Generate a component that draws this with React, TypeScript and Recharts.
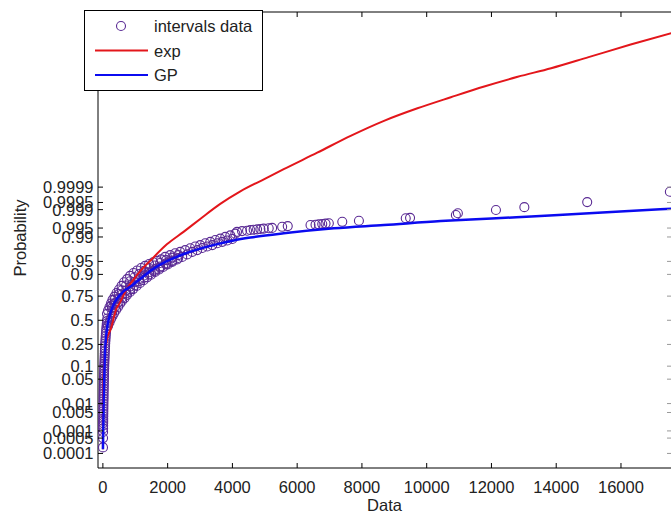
import React from 'react';
import { ComposedChart, Scatter, Line, XAxis, YAxis, Legend } from 'recharts';

// [data value, standard normal score] pairs
const intervalsLow: number[][] = [
  [3, -3.55], [5, -3.29], [6, -3.12], [7, -3.02], [8, -2.94], [9, -2.87], [10, -2.81], [11, -2.75],
  [12, -2.68], [13, -2.61], [14, -2.54], [15, -2.47], [16, -2.4], [17, -2.33], [18, -2.26], [20, -2.19],
  [21, -2.12], [22, -2.05], [24, -1.98], [25, -1.91], [27, -1.84], [28, -1.77], [30, -1.7], [32, -1.63],
  [34, -1.56], [36, -1.49], [38, -1.42], [40, -1.35], [42, -1.28], [45, -1.21], [48, -1.14], [51, -1.07],
  [54, -1.0], [57, -0.93], [60, -0.86], [64, -0.79], [68, -0.72], [72, -0.65], [77, -0.58], [82, -0.51],
  [87, -0.44], [93, -0.37], [99, -0.3], [106, -0.23], [113, -0.16], [120, -0.09], [128, -0.02], [136, 0.05],
];

const intervalsUpper: number[][] = [
  [127, 0.18], [158, 0.27], [204, 0.37], [251, 0.47], [297, 0.57], [359, 0.66], [421, 0.76], [498, 0.86],
  [576, 0.96], [653, 1.06], [746, 1.15], [839, 1.24], [947, 1.32], [1056, 1.39], [1180, 1.46], [1303, 1.52],
  [1427, 1.57], [1551, 1.62], [1675, 1.66], [1799, 1.7], [1923, 1.77], [2077, 1.82], [2232, 1.87], [2387, 1.91],
  [2542, 1.96], [2697, 2.01], [2851, 2.06], [3006, 2.1], [3161, 2.15], [3316, 2.19], [3471, 2.24], [3625, 2.28],
  [3780, 2.33], [3935, 2.37], [4090, 2.42],
];

const intervalsUpperMid: number[][] = [
  [266, 0.41], [368, 0.58], [489, 0.73], [585, 0.84], [715, 0.97], [839, 1.09], [978, 1.2], [1118, 1.29],
  [1272, 1.38], [1427, 1.46], [1598, 1.53], [1768, 1.6], [1954, 1.68], [2139, 1.75], [2325, 1.82],
];

const intervalsMid: number[][] = [
  [282, 0.34], [375, 0.48], [483, 0.61], [591, 0.72], [715, 0.83], [839, 0.94], [978, 1.06], [1118, 1.15],
  [1272, 1.25], [1427, 1.34], [1598, 1.42], [1768, 1.5], [1954, 1.59], [2139, 1.67], [2325, 1.74],
];

const intervalsLowerMid: number[][] = [
  [288, 0.23], [375, 0.37], [483, 0.5], [591, 0.63], [715, 0.75], [839, 0.87], [978, 0.98], [1118, 1.09],
  [1272, 1.19], [1427, 1.28], [1598, 1.38], [1768, 1.47], [1954, 1.56], [2139, 1.65],
];

const intervalsLower: number[][] = [
  [158, -0.16], [204, -0.06], [251, 0.04], [297, 0.12], [344, 0.2], [406, 0.29], [467, 0.37], [529, 0.46],
  [591, 0.54], [669, 0.62], [746, 0.71], [839, 0.79], [932, 0.87], [1040, 0.96], [1149, 1.04], [1257, 1.12],
  [1365, 1.2], [1489, 1.27], [1613, 1.35], [1737, 1.42], [1861, 1.49], [2000, 1.56], [2139, 1.63], [2294, 1.7],
  [2449, 1.77], [2604, 1.84], [2759, 1.91], [2913, 1.96], [3068, 2.02], [3223, 2.06], [3378, 2.1], [3533, 2.15],
  [3687, 2.19], [3842, 2.23], [3997, 2.27],
];

const intervalsTail: number[][] = [
  [4142, 2.47], [4297, 2.49], [4452, 2.5], [4554, 2.52], [4656, 2.53], [4762, 2.54], [4864, 2.55], [4966, 2.56],
  [5121, 2.57], [5226, 2.58], [5536, 2.61], [5709, 2.63], [6412, 2.66], [6567, 2.67], [6669, 2.68], [6774, 2.69],
  [6876, 2.7], [6978, 2.71], [7393, 2.75], [7907, 2.78], [9353, 2.85], [9486, 2.86], [10901, 2.94], [10963, 2.99],
  [12139, 3.08], [13016, 3.16], [14957, 3.3], [17510, 3.59],
];

const expCurve: number[][] = [
  [0.2, -3.6], [2, -2.7], [8, -2.1], [25, -1.5], [60, -1.0], [120, -0.55], [240, -0.25], [420, 0.33],
  [530, 0.5], [700, 0.82], [940, 1.13], [1200, 1.42], [1460, 1.66], [1975, 2.12], [2490, 2.47], [3006, 2.83],
  [3625, 3.25], [4245, 3.6], [5000, 3.95], [5585, 4.22], [6619, 4.68], [7650, 5.15], [8681, 5.57], [9715, 5.92],
  [10746, 6.23], [11777, 6.53], [12811, 6.8], [13843, 7.04], [15000, 7.35], [16300, 7.7], [17600, 8.03],
];

const gpCurve: number[][] = [
  [2, -3.6], [15, -2.8], [25, -2.2], [38, -1.7], [55, -1.15], [75, -0.75], [100, -0.45], [140, -0.15],
  [200, 0.1], [300, 0.38], [450, 0.62], [632, 0.8], [941, 1.0], [1149, 1.15], [1500, 1.4], [1975, 1.65],
  [2500, 1.85], [3006, 2.0], [3500, 2.12], [4037, 2.23], [4554, 2.31], [5585, 2.43], [7133, 2.57], [8681, 2.66],
  [10437, 2.77], [12000, 2.84], [13224, 2.9], [15288, 3.0], [17600, 3.12],
];

const xTicks = [0, 2000, 4000, 6000, 8000, 10000, 12000, 14000, 16000];
const probLabels = [
  '0.0001', '0.0005', '0.001', '0.005', '0.01', '0.05', '0.1', '0.25', '0.5',
  '0.75', '0.9', '0.95', '0.99', '0.995', '0.999', '0.9995', '0.9999',
];
const legendOrder = ['intervals data', 'exp', 'GP'];

const FONT = '"Liberation Sans", Arial, Helvetica, sans-serif';
const PURPLE = '#5a2a94';
const RED = '#e3161b';
const BLUE = '#0b0bf0';
const TICK_LEN = 5;
const X_DOMAIN = [-151, 17545];
const Y_DOMAIN = [-4.126, 8.61];

// inverse standard normal cdf (Acklam), used to place the probability ticks
function normInv(p: number): number {
  const a = [-39.69683028665376, 220.9460984245205, -275.9285104469687, 138.357751867269, -30.66479806614716, 2.506628277459239];
  const b = [-54.47609879822406, 161.5858368580409, -155.6989798598866, 66.80131188771972, -13.28068155288572];
  const c = [-0.007784894002430293, -0.3223964580411365, -2.400758277161838, -2.549732539343734, 4.374664141464968, 2.938163982698783];
  const d = [0.007784695709041462, 0.3224671290700398, 2.445134137142996, 3.754408661907416];
  const tail = (q: number) =>
    (((((c[0] * q + c[1]) * q + c[2]) * q + c[3]) * q + c[4]) * q + c[5]) /
    ((((d[0] * q + d[1]) * q + d[2]) * q + d[3]) * q + 1);
  if (p < 0.02425) return tail(Math.sqrt(-2 * Math.log(p)));
  if (p > 1 - 0.02425) return -tail(Math.sqrt(-2 * Math.log(1 - p)));
  const q = p - 0.5;
  const r = q * q;
  return (
    ((((((a[0] * r + a[1]) * r + a[2]) * r + a[3]) * r + a[4]) * r + a[5]) * q) /
    (((((b[0] * r + b[1]) * r + b[2]) * r + b[3]) * r + b[4]) * r + 1)
  );
}

const yTicks = probLabels.map((l) => normInv(parseFloat(l)));

const toPoints = (rows: number[][]) => rows.map(([x, z]) => ({ x, z }));
const intervalsData = toPoints([
  ...intervalsLow, ...intervalsLower, ...intervalsLowerMid, ...intervalsMid,
  ...intervalsUpperMid, ...intervalsUpper, ...intervalsTail,
]);
const expData = toPoints(expCurve);
const gpData = toPoints(gpCurve);

function probLabel(v: number) {
  let best = 0;
  yTicks.forEach((t, i) => {
    if (Math.abs(t - v) < Math.abs(yTicks[best] - v)) best = i;
  });
  return probLabels[best];
}

const LeftTick = (props: any) => {
  const { x, y, payload } = props;
  return (
    <g>
      <line x1={x} x2={x + TICK_LEN} y1={y} y2={y} stroke="#000" />
      <text x={x - 4.5} y={y} textAnchor="end" dominantBaseline="central" fontSize={16.5} fill="#222" fontFamily={FONT}>
        {probLabel(payload.value)}
      </text>
    </g>
  );
};

const RightTick = (props: any) => {
  const { x, y } = props;
  return <line x1={x - 4} x2={x} y1={y} y2={y} stroke="#999" />;
};

const BottomTick = (props: any) => {
  const { x, y, payload } = props;
  return (
    <g>
      <line x1={x} x2={x} y1={y} y2={y - TICK_LEN} stroke="#000" />
      <text x={x} y={y + 24.5} textAnchor="middle" fontSize={16.5} fill="#222" fontFamily={FONT}>
        {payload.value}
      </text>
    </g>
  );
};

const TopTick = (props: any) => {
  const { x, y } = props;
  return <line x1={x} x2={x} y1={y} y2={y + TICK_LEN} stroke="#000" />;
};

const Ring = (props: any) => (
  <circle cx={props.cx} cy={props.cy} r={4.5} fill="none" stroke={PURPLE} strokeWidth={1.1} />
);

const YTitle = (props: any) => {
  const vb = props.viewBox || { x: 0, y: 12, width: 98, height: 456 };
  const cx = vb.x + 20;
  const cy = vb.y + vb.height / 2 - 2;
  return (
    <text x={cx} y={cy} transform={`rotate(-90 ${cx} ${cy})`} textAnchor="middle" dominantBaseline="central"
      fontSize={16.5} fill="#222" fontFamily={FONT}>
      Probability
    </text>
  );
};

const XTitle = (props: any) => {
  const vb = props.viewBox || { x: 98, y: 468, width: 573, height: 49 };
  return (
    <text x={vb.x + vb.width / 2} y={vb.y + 43} textAnchor="middle" fontSize={16.5} fill="#222" fontFamily={FONT}>
      Data
    </text>
  );
};

const LegendBox = (props: any) => {
  const items = [...(props.payload || [])].sort(
    (a: any, b: any) => legendOrder.indexOf(a.value) - legendOrder.indexOf(b.value),
  );
  return (
    <div style={{ width: 177, height: 79, border: '1px solid #000', background: '#fff' }}>
      <svg width={177} height={79} style={{ display: 'block' }}>
        {items.map((item: any, i: number) => {
          const cy = 15 + i * 24.5;
          return (
            <g key={item.value}>
              {item.type === 'circle' ? (
                <circle cx={36} cy={cy} r={4.5} fill="none" stroke={item.color} strokeWidth={1.1} />
              ) : (
                <line x1={10} x2={63} y1={cy} y2={cy} stroke={item.color} strokeWidth={2} />
              )}
              <text x={69} y={cy} dominantBaseline="central" fontSize={16.5} fill="#222" fontFamily={FONT}>
                {item.value}
              </text>
            </g>
          );
        })}
      </svg>
    </div>
  );
};

export default function App() {
  return (
    <div style={{ position: 'absolute', left: 0, top: 0, width: 672, height: 517, background: '#fff', fontFamily: FONT }}>
      <ComposedChart width={672} height={517} margin={{ top: 11, right: 0, bottom: 0, left: 0 }}>
        <XAxis
          dataKey="x"
          type="number"
          domain={X_DOMAIN}
          allowDataOverflow
          ticks={xTicks}
          interval={0}
          height={49}
          tickSize={0}
          tickMargin={0}
          tickLine={false}
          tick={<BottomTick />}
          axisLine={{ stroke: '#000' }}
          label={<XTitle />}
        />
        <XAxis
          xAxisId="top"
          orientation="top"
          dataKey="x"
          type="number"
          domain={X_DOMAIN}
          allowDataOverflow
          ticks={xTicks}
          interval={0}
          height={1}
          tickSize={0}
          tickMargin={0}
          tickLine={false}
          tick={<TopTick />}
          axisLine={{ stroke: '#000' }}
        />
        <YAxis
          dataKey="z"
          type="number"
          domain={Y_DOMAIN}
          allowDataOverflow
          ticks={yTicks}
          interval={0}
          width={98}
          tickSize={0}
          tickMargin={0}
          tickLine={false}
          tick={<LeftTick />}
          axisLine={{ stroke: '#000' }}
          label={<YTitle />}
        />
        <YAxis
          yAxisId="right"
          orientation="right"
          dataKey="z"
          type="number"
          domain={Y_DOMAIN}
          allowDataOverflow
          ticks={yTicks}
          interval={0}
          width={1}
          tickSize={0}
          tickMargin={0}
          tickLine={false}
          tick={<RightTick />}
          axisLine={false}
        />
        <Scatter
          name="intervals data"
          data={intervalsData}
          fill={PURPLE}
          legendType="circle"
          shape={<Ring />}
          isAnimationActive={false}
          zIndex={500}
        />
        <Line
          name="exp"
          data={expData}
          dataKey="z"
          type="monotone"
          stroke={RED}
          strokeWidth={2}
          dot={false}
          activeDot={false}
          legendType="line"
          isAnimationActive={false}
          zIndex={700}
        />
        <Line
          name="GP"
          data={gpData}
          dataKey="z"
          type="monotone"
          stroke={BLUE}
          strokeWidth={2.5}
          dot={false}
          activeDot={false}
          legendType="line"
          isAnimationActive={false}
          zIndex={800}
        />
        <Legend
          layout="vertical"
          align="center"
          verticalAlign="middle"
          content={<LegendBox />}
          wrapperStyle={{ left: 84, top: 10, width: 179, height: 81 }}
        />
      </ComposedChart>
    </div>
  );
}
